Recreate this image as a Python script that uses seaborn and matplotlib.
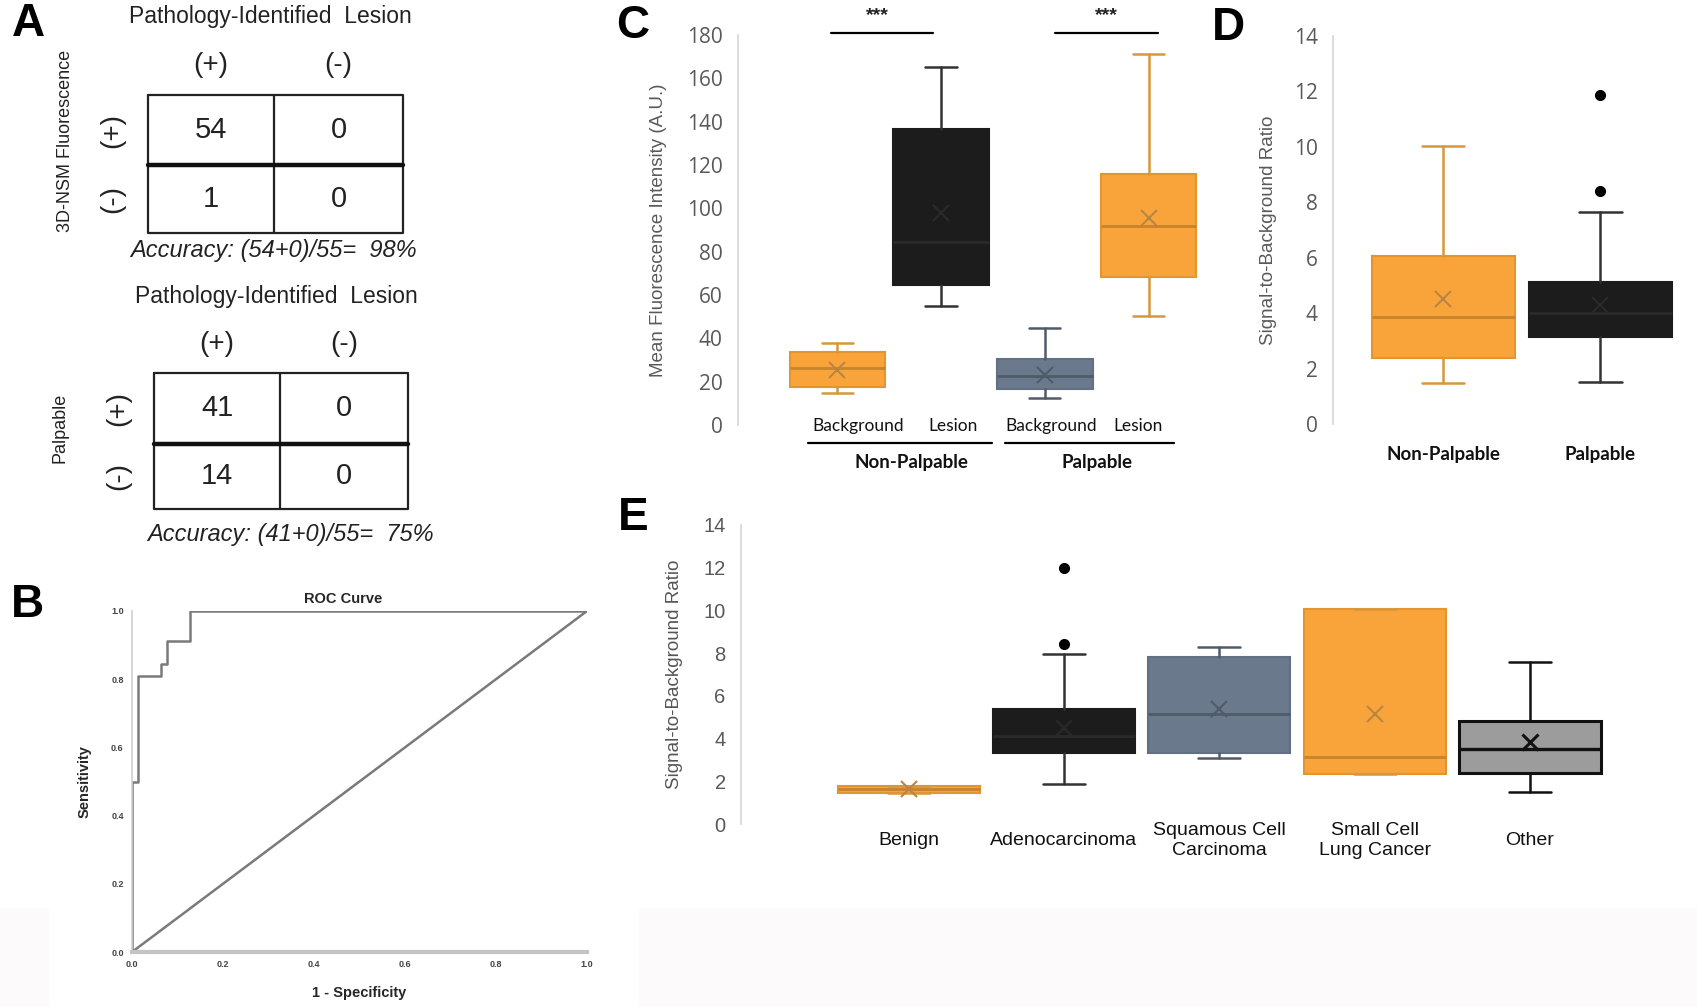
import numpy as np
import pandas as pd
import seaborn as sns
import matplotlib.pyplot as plt

# ---- data ----
# A: confusion tables
tab1_vals = [[54, 0], [1, 0]]
tab2_vals = [[41, 0], [14, 0]]
tab1_acc = "Accuracy: (54+0)/55=  98%"
tab2_acc = "Accuracy: (41+0)/55=  75%"

# B: ROC curve (step points)
roc_fpr = [0, 0, 0.014, 0.014, 0.064, 0.064, 0.078, 0.078, 0.127, 0.127, 1.0]
roc_tpr = [0, 0.50, 0.50, 0.81, 0.81, 0.845, 0.845, 0.913, 0.913, 1.0, 1.0]

# C: mean fluorescence intensity
c_groups = ["NP Background", "NP Lesion", "P Background", "P Lesion"]
c_whislo = [14.6, 54.9, 12.3, 50.3]
c_q1 = [17.4, 64.6, 16.5, 68.4]
c_med = [26.2, 84.6, 22.8, 92.0]
c_q3 = [33.5, 136.5, 30.3, 115.8]
c_whishi = [37.7, 165.4, 44.6, 171.2]
c_mean = [25.4, 97.7, 23.1, 95.4]
c_colors = ["orange", "black", "slate", "orange"]
c_sub = ["Background", "Lesion", "Background", "Lesion"]
c_main = ["Non-Palpable", "Palpable"]

# D: SBR by palpability
d_groups = ["Non-Palpable", "Palpable"]
d_whislo = [1.47, 1.53]
d_q1 = [2.37, 3.15]
d_med = [3.85, 4.0]
d_q3 = [6.06, 5.11]
d_whishi = [10.03, 7.65]
d_mean = [4.5, 4.3]
d_fliers = [[], [11.87, 8.42]]
d_colors = ["orange", "black"]

# E: SBR by histology
e_groups = ["Benign", "Adenocarcinoma", "Squamous Cell\nCarcinoma", "Small Cell\nLung Cancer", "Other"]
e_whislo = [1.47, 1.86, 3.11, 2.34, 1.50]
e_q1 = [1.47, 3.31, 3.31, 2.34, 2.41]
e_med = [1.62, 4.12, 5.13, 3.15, 3.51]
e_q3 = [1.80, 5.38, 7.80, 10.05, 4.82]
e_whishi = [1.80, 7.96, 8.30, 10.05, 7.60]
e_mean = [1.66, 4.5, 5.38, 5.17, 3.82]
e_fliers = [[], [11.97, 8.45], [], [], []]
e_colors = ["orange", "black", "slate", "orange", "gray"]

styles = {
    "orange": dict(face="#F9A43A", edge="#E3952F", line="#D8973A", med="#C8842A", mean="#B98543"),
    "black": dict(face="#1c1c1c", edge="#1c1c1c", line="#333333", med="#2a2a2a", mean="#2a2a2a"),
    "slate": dict(face="#6A798B", edge="#627083", line="#4f5b69", med="#4f5b69", mean="#4f5b69"),
    "gray": dict(face="#9c9c9c", edge="#111111", line="#111111", med="#111111", mean="#111111"),
}

sns.set_theme(style="white")
plt.rcParams['font.family'] = ['Liberation Sans', 'DejaVu Sans']
arial = ['Liberation Sans', 'DejaVu Sans']
wide = ['Open Sans', 'DejaVu Sans']
calib = ['Lato', 'DejaVu Sans']
tick_gray = "#595959"

W, H = 1697, 1007
fig = plt.figure(figsize=(W / 100, H / 100), dpi=100)


def rect(x0, y0, x1, y1):
    return [x0 / W, 1 - y1 / H, (x1 - x0) / W, (y1 - y0) / H]


# overlay in pixel coords for panel A and letters
ov = fig.add_axes([0, 0, 1, 1])
ov.set_xlim(0, W)
ov.set_ylim(H, 0)
ov.axis('off')
ov.add_patch(plt.Rectangle((0, 908), W, H - 908, color="#fcfafa", zorder=0))
ov.add_patch(plt.Rectangle((49, 560), 589, 447, color="white", zorder=0))


def draw_table(vals, acc, xs, ys, title_y, head_y, acc_y, acc_dx, ylab, ylab_x, ylab_y):
    x0, xm, x1 = xs
    y0, ym, y1 = ys
    lw = 1.6
    ov.plot([x0, x1, x1, x0, x0], [y0, y0, y1, y1, y0], color="#222", lw=lw)
    ov.plot([xm, xm], [y0, y1], color="#222", lw=lw)
    ov.plot([x0, x1], [ym, ym], color="#111", lw=3.2)
    cx = [(x0 + xm) / 2, (xm + x1) / 2]
    cy = [(y0 + ym) / 2, (ym + y1) / 2]
    ov.text((x0 + x1) / 2 - 5, title_y, "Pathology-Identified  Lesion", ha='center', va='center',
            fontsize=16.5, color="#222")
    for j, s in enumerate(["(+)", "(-)"]):
        ov.text(cx[j], head_y, s, ha='center', va='center', fontsize=20, color="#222")
        ov.text(x0 - 36, cy[j], s, ha='center', va='center', fontsize=20, rotation=90, color="#222")
    for i in range(2):
        for j in range(2):
            ov.text(cx[j], cy[i], str(vals[i][j]), ha='center', va='center', fontsize=21, color="#222")
    ov.text((x0 + x1) / 2 + acc_dx, acc_y, acc, ha='center', va='center', fontsize=17, style='italic', color="#222")
    ov.text(ylab_x, ylab_y, ylab, ha='center', va='center', fontsize=13, rotation=90, color="#222")


draw_table(tab1_vals, tab1_acc, (148, 274, 403), (95, 165, 233), 16, 65, 251, -2,
           "3D-NSM Fluorescence", 65, 141)
draw_table(tab2_vals, tab2_acc, (154, 280, 408), (373, 444, 509), 297, 344, 534, 9,
           "Palpable", 60, 428)

for letter, (lx, ly) in zip("ABCDE", [(28, 24), (27, 605), (633, 26), (1228, 28), (633, 518)]):
    ov.text(lx, ly, letter, ha='center', va='center', fontsize=33, fontweight='bold', color="black")


# ---- B: ROC ----
axB = fig.add_axes(rect(132, 611, 587, 952))
sns.lineplot(x=roc_fpr, y=roc_tpr, ax=axB, sort=False, estimator=None, color="#7a7a7a", lw=1.8)
sns.lineplot(x=[0, 1], y=[0, 1], ax=axB, sort=False, estimator=None, color="#7a7a7a", lw=1.8)
axB.set_xlim(0, 1)
axB.set_ylim(0, 1)
ticksB = np.arange(0, 1.01, 0.2)
axB.set_xticks(ticksB)
axB.set_yticks(ticksB)
axB.set_xticklabels([f"{v:.1f}" for v in ticksB])
axB.set_yticklabels([f"{v:.1f}" for v in ticksB])
axB.tick_params(length=0, labelsize=6.5, colors="#444", pad=6)
for lab in axB.get_xticklabels() + axB.get_yticklabels():
    lab.set_fontweight('bold')
for s in ["top", "right"]:
    axB.spines[s].set_visible(False)
axB.spines["left"].set_color("#cfcfcf")
axB.spines["left"].set_linewidth(1.2)
axB.spines["bottom"].set_color("#c4c4c4")
axB.spines["bottom"].set_linewidth(3)
axB.text(0.464, 1.015, "ROC Curve", transform=axB.transAxes, ha='center', va='bottom',
         fontsize=10.5, fontweight='bold')
axB.set_xlabel("1 - Specificity", fontsize=10.5, fontweight='bold', labelpad=12)
axB.set_ylabel("Sensitivity", fontsize=10.5, fontweight='bold', labelpad=14)


def make_stats(labels, lo, q1, med, q3, hi, mean, fliers=None):
    out = []
    for i, lab in enumerate(labels):
        out.append(dict(label=lab, whislo=lo[i], q1=q1[i], med=med[i], q3=q3[i], whishi=hi[i],
                        mean=mean[i], fliers=(fliers[i] if fliers else [])))
    return out


def draw_boxes(ax, stats, colors, width=0.92, cap=0.28):
    n = len(stats)
    art = ax.bxp(stats, positions=list(range(n)), widths=width, patch_artist=True, showmeans=True,
                 showfliers=True, capwidths=cap, manage_ticks=False)
    for i, c in enumerate(colors):
        st = styles[c]
        art['boxes'][i].set(facecolor=st['face'], edgecolor=st['edge'], linewidth=1.5 if c != "gray" else 2.2)
        art['medians'][i].set(color=st['med'], linewidth=2 if c != "gray" else 2.4)
        for k in (2 * i, 2 * i + 1):
            art['whiskers'][k].set(color=st['line'], linewidth=1.8)
            art['caps'][k].set(color=st['line'], linewidth=1.8)
        art['means'][i].set(marker='x', markersize=12, markeredgewidth=1.5 if c != "gray" else 2.2,
                            markeredgecolor=st['mean'], markerfacecolor='none')
        art['fliers'][i].set(marker='o', markersize=7, markerfacecolor='black', markeredgecolor='black')


def style_axis(ax, ymax, step, font, size):
    ax.set_ylim(0, ymax)
    ax.set_yticks(np.arange(0, ymax + 0.1, step))
    for s in ["top", "right", "bottom"]:
        ax.spines[s].set_visible(False)
    ax.spines["left"].set_color("#d9d9d9")
    ax.spines["left"].set_linewidth(1.3)
    ax.tick_params(axis='y', length=5, width=1, color="#d9d9d9", labelsize=size, labelcolor=tick_gray, pad=6)
    for lab in ax.get_yticklabels():
        lab.set_family(font)
    ax.patch.set_alpha(0)


# ---- C ----
axC = fig.add_axes(rect(738, 35, 1205, 425))
draw_boxes(axC, make_stats(c_groups, c_whislo, c_q1, c_med, c_q3, c_whishi, c_mean), c_colors, cap=0.3)
axC.set_xlim(-0.957, 3.544)
style_axis(axC, 180, 20, wide, 15)
axC.set_xticks([])
axC.set_ylabel("Mean Fluorescence Intensity (A.U.)", fontsize=13.5, color=tick_gray)
axC.yaxis.set_label_coords(-0.152, 0.5)
for x0, x1, xt in [(-0.056, 0.924, 0.39), (2.097, 3.09, 2.59)]:
    axC.plot([x0, x1], [181, 181], color="black", lw=1.6, clip_on=False)
    axC.text(xt, 189, "***", ha='center', va='center', fontsize=14, fontweight='bold', color="#222")
for xt, s in zip([0.198, 1.117, 2.058, 2.90], c_sub):
    axC.text(xt, -0.5, s, ha='center', va='center', fontsize=12.5, family=calib, color="#111", clip_on=False)
for x0, x1, xt, s in [(-0.28, 1.49, 0.71, c_main[0]), (1.62, 3.25, 2.50, c_main[1])]:
    axC.plot([x0, x1], [-8.3, -8.3], color="black", lw=1.6, clip_on=False)
    axC.text(xt, -17.5, s, ha='center', va='center', fontsize=13.5, fontweight='bold', family=calib, color="#111")

# ---- D ----
axD = fig.add_axes(rect(1333, 36, 1690, 424))
draw_boxes(axD, make_stats(d_groups, d_whislo, d_q1, d_med, d_q3, d_whishi, d_mean, d_fliers), d_colors,
           width=0.91, cap=0.27)
axD.set_xlim(-0.70, 1.57)
style_axis(axD, 14, 2, wide, 15)
axD.set_xticks(range(len(d_groups)))
axD.set_xticklabels(d_groups, fontsize=13.5, fontweight='bold', family=calib, color="#111")
axD.tick_params(axis='x', length=0, pad=16)
axD.set_ylabel("Signal-to-Background Ratio", fontsize=13.5, color=tick_gray)
axD.yaxis.set_label_coords(-0.157, 0.5)

# ---- E ----
axE = fig.add_axes(rect(741, 525, 1620, 824))
draw_boxes(axE, make_stats(e_groups, e_whislo, e_q1, e_med, e_q3, e_whishi, e_mean, e_fliers), e_colors,
           width=0.915, cap=0.27)
axE.set_xlim(-1.079, 4.58)
style_axis(axE, 14, 2, arial, 14.5)
axE.set_xticks(range(len(e_groups)))
axE.set_xticklabels(e_groups, fontsize=14, family=arial, color="#111", va='center')
axE.tick_params(axis='x', length=0, pad=12)
axE.set_ylabel("Signal-to-Background Ratio", fontsize=13.5, color="#555555")
axE.yaxis.set_label_coords(-0.066, 0.5)

fig.savefig("out.png", dpi=100)
